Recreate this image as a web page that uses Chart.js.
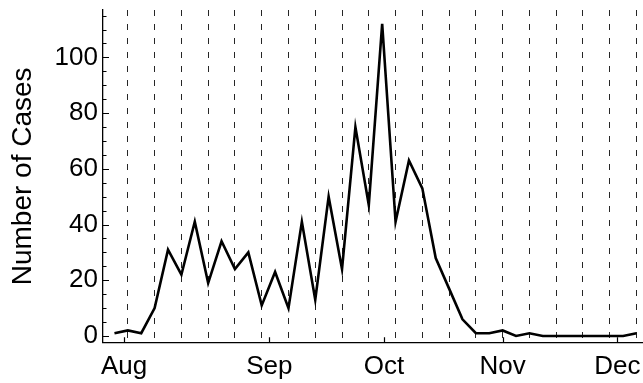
<!DOCTYPE html>
<html><head><meta charset="utf-8">
<script src="https://cdn.jsdelivr.net/npm/chart.js@4/dist/chart.umd.min.js"></script>
<style>html,body{margin:0;padding:0;background:#fff;overflow:hidden}</style>
</head><body>
<canvas id="c" width="643" height="383"></canvas>
<script>
// days relative to 1 Sep (twice-weekly reporting)
const days = [-40.5,-37,-33.5,-30,-26.5,-23,-19.5,-16,-12.5,-9,-5.5,-2,1.5,5,8.5,12,15.5,19,22.5,26,29.5,33,36.5,40,43.5,47,50.5,54,57.5,61,64.5,68,71.5,75,78.5,82,85.5,89,92.5,96];
const cases = [1,2,1,10,31,22,41,19,34,24,30,11,23,10,41,13,50,24,75,47,112,41,63,53,28,17,6,1,1,2,0,1,0,0,0,0,0,0,0,1];
const monthLabels = ['Aug','Sep','Oct','Nov','Dec'];
const monthDays = [-38,0,30,61,91];
const weekDays = [-37,-30,-23,-16,-9,-2,5,12,19,26,33,40,47,54,61,68,75,82,89,96];
const yMajor = [0,20,40,60,80,100];
const yMinor = [5,10,15,25,30,35,45,50,55,65,70,75,85,90,95,105,110,115];

const FONT = "'Liberation Sans', Arial, sans-serif";
const X_MIN = -43.5, X_MAX = 97.7;

const inwardTicks = {
  id: 'inwardTicks',
  afterDraw(chart) {
    const ctx = chart.ctx, xs = chart.scales.x, ys = chart.scales.y;
    const a = chart.chartArea;
    ctx.save();
    ctx.strokeStyle = '#000';
    ctx.lineWidth = 1.2;
    ctx.beginPath();
    yMajor.forEach(v => { const p = Math.round(ys.getPixelForValue(v)) + 0.5; ctx.moveTo(a.left, p); ctx.lineTo(a.left + 6, p); });
    yMinor.forEach(v => { const p = Math.round(ys.getPixelForValue(v)) + 0.5; ctx.moveTo(a.left, p); ctx.lineTo(a.left + 3.5, p); });
    monthDays.forEach(v => { const p = Math.round(xs.getPixelForValue(v)) + 0.5; ctx.moveTo(p, a.bottom); ctx.lineTo(p, a.bottom - 5.5); });
    ctx.stroke();
    ctx.restore();
  }
};

new Chart(document.getElementById('c'), {
  type: 'line',
  data: {
    datasets: [{
      data: days.map((d, i) => ({ x: d, y: cases[i] })),
      borderColor: '#000',
      borderWidth: 2.6,
      pointRadius: 0,
      tension: 0,
      fill: false
    }]
  },
  options: {
    responsive: false,
    animation: false,
    devicePixelRatio: 1,
    layout: { padding: { top: 10, right: 0, bottom: 0, left: 0 } },
    plugins: { legend: { display: false }, tooltip: { enabled: false } },
    scales: {
      x: {
        type: 'linear', position: 'bottom', min: X_MIN, max: X_MAX,
        afterBuildTicks: s => { s.ticks = monthDays.map(v => ({ value: v })); },
        afterFit: s => { s.height = 40.3; s.paddingLeft = 0; s.paddingRight = 0; },
        ticks: {
          autoSkip: false, maxRotation: 0, padding: 9, color: '#000',
          font: { family: FONT, size: 26 },
          callback: v => monthLabels[monthDays.indexOf(v)]
        },
        grid: { display: false, drawTicks: false },
        border: { display: true, color: '#000', width: 1.3 }
      },
      xg: {
        type: 'linear', position: 'bottom', min: X_MIN, max: X_MAX,
        afterBuildTicks: s => { s.ticks = weekDays.map(v => ({ value: v })); },
        afterFit: s => { s.height = 0; s.paddingLeft = 0; s.paddingRight = 0; },
        ticks: { display: false },
        grid: { display: true, drawTicks: false, color: 'rgba(0,0,0,0.85)', lineWidth: 1 },
        border: { display: false, dash: [6, 8] }
      },
      y: {
        min: -2.4, max: 117,
        afterBuildTicks: s => { s.ticks = yMajor.map(v => ({ value: v })); },
        afterFit: s => { s.width = 103; s.paddingTop = 0; s.paddingBottom = 0; },
        ticks: { padding: 5, color: '#000', font: { family: FONT, size: 26 } },
        grid: { display: false, drawTicks: false },
        border: { display: true, color: '#000', width: 1.3 },
        title: { display: true, text: 'Number of Cases', color: '#000', font: { family: FONT, size: 28 }, padding: { top: 6, bottom: 0 } }
      }
    }
  },
  plugins: [inwardTicks]
});
</script>
</body></html>
